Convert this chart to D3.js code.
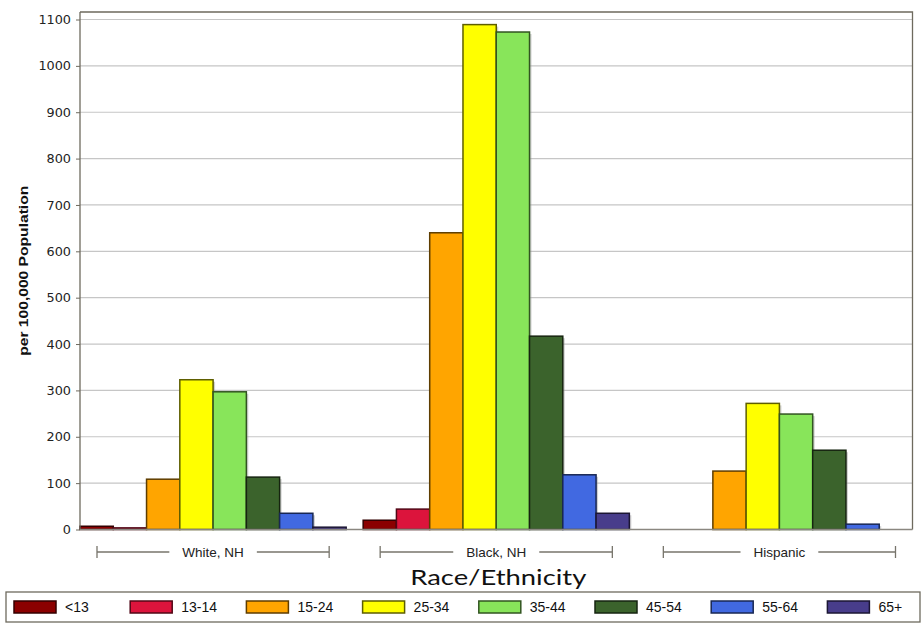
<!DOCTYPE html>
<html>
<head>
<meta charset="utf-8">
<script src="https://cdn.jsdelivr.net/npm/d3@7"></script>
<style>
  html, body { margin: 0; padding: 0; background: #fff; }
  svg { display: block; }
</style>
</head>
<body>
<svg id="chart" width="922" height="626"></svg>
<script>
// ---- data ----
const groups = ["White, NH", "Black, NH", "Hispanic"];
const ageGroups = ["<13", "13-14", "15-24", "25-34", "35-44", "45-54", "55-64", "65+"];
const colors = ["#8B0000", "#DC143C", "#FFA500", "#FFFF00", "#88E55A", "#3B632C", "#4169E1", "#483D8B"];
const whiteNH = [7, 3.5, 108.5, 323, 297, 113, 35, 5];
const blackNH = [20, 44, 640, 1089, 1073, 417, 118, 35];
const hispanic = [0, 0, 126, 272, 249, 171, 11.5, 0];
const yTicks = [0, 100, 200, 300, 400, 500, 600, 700, 800, 900, 1000, 1100];
const yTitle = "per 100,000 Population";
const xTitle = "Race/Ethnicity";

const seriesByGroup = [whiteNH, blackNH, hispanic];
const rows = [];
groups.forEach((g, gi) => ageGroups.forEach((a, ai) => rows.push({ g, a, ai, v: seriesByGroup[gi][ai] })));

const svg = d3.select("#chart");
const L = 80, R = 912.5, T = 12, B = 529.5;

const x0 = d3.scaleBand().domain(groups).range([L, R]).paddingInner(0.06).paddingOuter(0);
const x1 = d3.scaleBand().domain(ageGroups).range([0, x0.bandwidth()]).padding(0);
const y = d3.scaleLinear().domain([0, 1100]).range([B, 19.5]);
const color = d3.scaleOrdinal().domain(ageGroups).range(colors);

// gridlines
svg.append("g").selectAll("line").data(yTicks.filter(d => d > 0)).join("line")
  .attr("x1", L).attr("x2", R).attr("y1", d => y(d)).attr("y2", d => y(d))
  .attr("stroke", "#c6c6c6").attr("stroke-width", 1.2);

// frame top & right
svg.append("path")
  .attr("d", `M${L},${T}H${R}V${B}`)
  .attr("fill", "none").attr("stroke", "#6e6a5e").attr("stroke-width", 1.3);

// bar shadows
const bars = svg.append("g");
bars.selectAll("rect.sh").data(rows.filter(d => d.v > 0)).join("rect")
  .attr("class", "sh")
  .attr("x", d => x0(d.g) + x1(d.a) + 2)
  .attr("y", d => y(d.v) + 2)
  .attr("width", x1.bandwidth())
  .attr("height", d => B - y(d.v) - 2)
  .attr("fill", "#9a9a9a").attr("opacity", 0.45);

bars.selectAll("rect.bar").data(rows.filter(d => d.v > 0)).join("rect")
  .attr("class", "bar")
  .attr("x", d => x0(d.g) + x1(d.a))
  .attr("y", d => y(d.v))
  .attr("width", x1.bandwidth())
  .attr("height", d => B - y(d.v))
  .attr("fill", d => color(d.a))
  .attr("stroke", d => d3.color(color(d.a)).darker(2.8))
  .attr("stroke-width", 1.5);

// y axis
const yAxis = d3.axisLeft(y).tickValues(yTicks).tickSize(4).tickPadding(5).tickFormat(d3.format("d"));
const yg = svg.append("g").attr("transform", `translate(${L},0)`).call(yAxis);
yg.select(".domain").attr("stroke", "#6e6a5e").attr("stroke-width", 1.3).attr("d", `M0,${T}V${B}`);
yg.selectAll(".tick line").attr("stroke", "#6e6a5e");
yg.selectAll(".tick text").attr("font-family", "DejaVu Sans, sans-serif").attr("font-size", 12.8).attr("fill", "#222");

// x baseline
svg.append("line").attr("x1", L).attr("x2", R).attr("y1", B).attr("y2", B)
  .attr("stroke", "#8a8780").attr("stroke-width", 1.6);

// y title
svg.append("text")
  .attr("transform", `translate(28,${(T + B) / 2}) rotate(-90)`)
  .attr("text-anchor", "middle")
  .attr("font-family", "Liberation Sans, Arial, sans-serif")
  .attr("font-weight", "bold").attr("font-size", 13)
  .attr("textLength", 170).attr("lengthAdjust", "spacingAndGlyphs")
  .attr("fill", "#111")
  .text(yTitle);

// group brackets
const by = 552, inset = 17;
groups.forEach(g => {
  const gx0 = x0(g) + inset, gx1 = x0(g) + x0.bandwidth() - inset, cx = x0(g) + x0.bandwidth() / 2;
  const gg = svg.append("g");
  const t = gg.append("text").attr("x", cx).attr("y", by).attr("dy", "0.35em")
    .attr("text-anchor", "middle")
    .attr("font-family", "Liberation Sans, Arial, sans-serif").attr("font-size", 13.5).attr("fill", "#222")
    .text(g);
  const w = t.node().getComputedTextLength();
  const st = { stroke: "#77746b", "stroke-width": 1.3 };
  const seg = (a, b, c, d) => { const l = gg.append("line").attr("x1", a).attr("y1", b).attr("x2", c).attr("y2", d); Object.entries(st).forEach(([k, v]) => l.attr(k, v)); };
  seg(gx0, by, cx - w / 2 - 13, by);
  seg(cx + w / 2 + 13, by, gx1, by);
  seg(gx0, by - 6, gx0, by + 6);
  seg(gx1, by - 6, gx1, by + 6);
});

// x title
svg.append("text").attr("x", (L + R) / 2 + 2).attr("y", 585)
  .attr("text-anchor", "middle")
  .attr("font-family", "Lato, Open Sans, sans-serif").attr("font-size", 22).attr("fill", "#111")
  .attr("textLength", 176).attr("lengthAdjust", "spacingAndGlyphs")
  .text(xTitle);

// legend
svg.append("rect").attr("x", 6).attr("y", 592).attr("width", 914).attr("height", 30)
  .attr("fill", "none").attr("stroke", "#6e6a5e").attr("stroke-width", 1.3);
const lg = svg.append("g").selectAll("g").data(ageGroups).join("g")
  .attr("transform", (d, i) => `translate(${14 + i * 116.2},601)`);
lg.append("rect").attr("width", 42).attr("height", 12)
  .attr("fill", d => color(d)).attr("stroke", d => d3.color(color(d)).darker(2.8)).attr("stroke-width", 1.5);
lg.append("text").attr("x", 51).attr("y", 6).attr("dy", "0.36em")
  .attr("font-family", "Liberation Sans, Arial, sans-serif").attr("font-size", 14).attr("fill", "#111")
  .text(d => d);
</script>
</body>
</html>
